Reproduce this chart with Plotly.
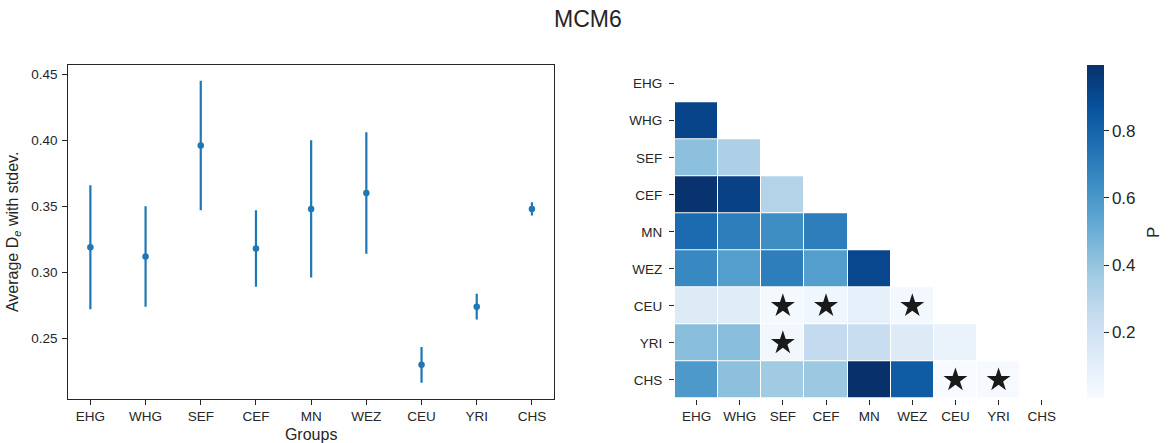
import plotly.graph_objects as go

# Groups compared
groups = ["EHG", "WHG", "SEF", "CEF", "MN", "WEZ", "CEU", "YRI", "CHS"]

# Average D_e per group and its standard deviation
mean_de = [0.319, 0.312, 0.396, 0.318, 0.348, 0.360, 0.230, 0.274, 0.348]
std_de = [0.047, 0.038, 0.049, 0.029, 0.052, 0.046, 0.0135, 0.0097, 0.005]

# Pairwise P values, lower triangle (row i vs columns 0..i-1)
p_rows = [
    [],
    [0.92],
    [0.42, 0.33],
    [0.985, 0.93, 0.31],
    [0.77, 0.70, 0.64, 0.70],
    [0.66, 0.57, 0.70, 0.57, 0.91],
    [0.14, 0.12, 0.02, 0.04, 0.09, 0.03],
    [0.43, 0.43, 0.035, 0.26, 0.24, 0.13, 0.07],
    [0.59, 0.42, 0.37, 0.38, 0.995, 0.83, 0.005, 0.01],
]
alpha = 0.05

W, H = 1169, 443
INK = "#262626"
FONT = "Liberation Sans, Arial, sans-serif"

blues = [
    [0.0, "#f7fbff"], [0.125, "#deebf7"], [0.25, "#c6dbef"],
    [0.375, "#9ecae1"], [0.5, "#6baed6"], [0.625, "#4292c6"],
    [0.75, "#2171b5"], [0.875, "#08519c"], [1.0, "#08306b"],
]

n = len(groups)
idx = list(range(n))
z = [[(p_rows[i][j] if j < i else None) for j in range(n)] for i in range(n)]
flat = [v for r in p_rows for v in r]

star_x, star_y = [], []
for i, r in enumerate(p_rows):
    for j, v in enumerate(r):
        if v < alpha:
            star_x.append(j)
            star_y.append(i)

fig = go.Figure()

# Left: mean with stdev error bars
fig.add_trace(go.Scatter(
    x=idx, y=mean_de, mode="markers",
    marker=dict(color="#1f77b4", size=6.5),
    error_y=dict(type="data", array=std_de, visible=True,
                 color="#1f77b4", thickness=2.2, width=0),
    xaxis="x", yaxis="y", showlegend=False,
))

# Right: lower-triangle heatmap of P values
fig.add_trace(go.Heatmap(
    x=idx, y=idx, z=z, colorscale=blues,
    zmin=min(flat), zmax=max(flat),
    xgap=1, ygap=1, hoverongaps=False,
    xaxis="x2", yaxis="y2",
    colorbar=dict(
        x=1087 / W, xanchor="left", xpad=0, ypad=0,
        y=1 - 231.5 / H, yanchor="middle",
        len=333, lenmode="pixels", thickness=17,
        outlinewidth=0, ticks="outside", ticklen=5, tickwidth=1.2,
        tickcolor=INK, tickvals=[0.2, 0.4, 0.6, 0.8],
        tickfont=dict(size=17, color=INK, family=FONT),
    ),
))

# Significance markers
fig.add_trace(go.Scatter(
    x=star_x, y=star_y, mode="markers",
    marker=dict(symbol="star", size=18, color="#1a1a1a", line=dict(width=0)),
    xaxis="x2", yaxis="y2", showlegend=False, hoverinfo="skip",
))

y_bot = 1 - 398.5 / H
y_top = 1 - 65.2 / H

tick_common = dict(ticks="outside", ticklen=5, tickwidth=1.25, tickcolor=INK,
                   tickfont=dict(size=13.5), showgrid=False, zeroline=False)

fig.update_layout(
    width=W, height=H,
    margin=dict(l=0, r=0, t=0, b=0),
    paper_bgcolor="white", plot_bgcolor="white",
    font=dict(family=FONT, color=INK),
    xaxis=dict(
        domain=[68.3 / W, 554 / W], range=[-0.4, 8.4],
        tickvals=idx, ticktext=groups, **tick_common,
        showline=True, linecolor=INK, linewidth=1.3, mirror=True,
        title=dict(text="Groups", font=dict(size=16), standoff=5),
    ),
    yaxis=dict(
        domain=[y_bot, y_top], range=[0.2045, 0.4568],
        tickvals=[0.25, 0.30, 0.35, 0.40, 0.45], tickformat=".2f",
        **tick_common, ticklabelstandoff=2,
        showline=True, linecolor=INK, linewidth=1.3, mirror=True,
        title=dict(text="Average D<sub><i>e</i></sub> with stdev.",
                   font=dict(size=16), standoff=8),
    ),
    xaxis2=dict(
        domain=[675 / W, 1063.3 / W], range=[-0.5, 8.5], anchor="y2",
        tickvals=idx, ticktext=groups, **tick_common, showline=False,
    ),
    yaxis2=dict(
        domain=[y_bot, y_top], range=[8.5, -0.5], anchor="x2",
        tickvals=idx, ticktext=groups, **tick_common, showline=False,
        ticklabelstandoff=4,
    ),
    annotations=[
        dict(text="MCM6", x=588 / W, y=1 - 18.5 / H, xref="paper",
             yref="paper", showarrow=False, xanchor="center",
             yanchor="middle", font=dict(size=23, color=INK)),
        dict(text="P", x=1154 / W, y=1 - 233 / H, xref="paper",
             yref="paper", showarrow=False, xanchor="center",
             yanchor="middle", textangle=-90,
             font=dict(size=17, color=INK)),
    ],
)

fig.write_html("out.html")
